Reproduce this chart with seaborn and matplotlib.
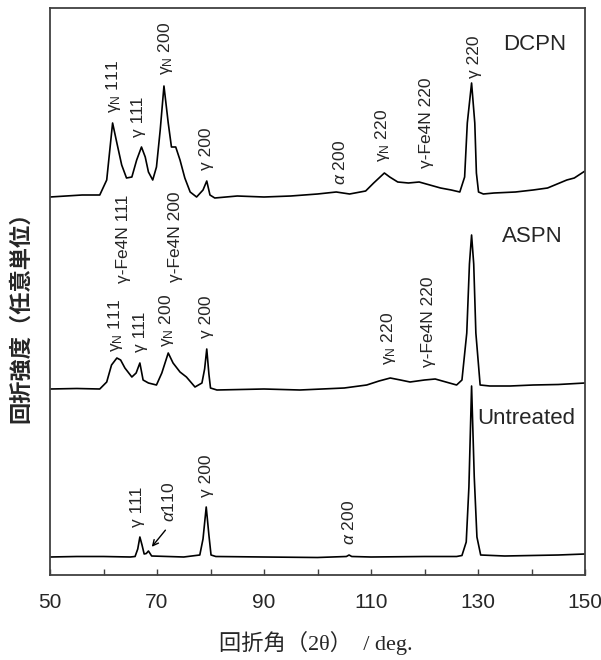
import numpy as np
import matplotlib
matplotlib.use("Agg")
import matplotlib.pyplot as plt
import seaborn as sns

# XRD patterns, intensities (arbitrary units, each trace from its own baseline)
untreated_x = [50, 55, 60, 65.0, 65.9, 66.4, 66.8, 67.2, 67.6, 68.0, 68.4, 69.0, 72, 75, 78.0, 78.6,
               79.2, 79.7, 80.1, 81, 90, 100, 105.4, 105.9, 106.4, 110, 120, 126.0, 127.0, 127.8,
               128.3, 128.8, 129.3, 129.8, 130.5, 135, 140, 145, 150]
untreated_y = [0, 0.5, 0.5, 0, 0.5, 8, 20, 12, 3, 3.5, 6, 1, 0.5, 0, 2, 18,
               50, 22, 2, 0.5, 0, -0.5, 0.5, 2, 0.5, 0, 0.5, 0.5, 1.5, 15,
               70, 171, 80, 20, 2, 1, 1.5, 2, 3]

aspn_x = [50, 55, 59.3, 60.6, 61.5, 62.5, 63.2, 64.0, 65.3, 66.1, 66.8, 67.4, 68.4, 69.9, 70.9,
          72.1, 73.0, 74.3, 75.5, 77.1, 78.4, 78.9, 79.3, 79.7, 80.0, 81.2, 90, 96.7, 105, 109.2,
          111.5, 113.6, 115.5, 117.3, 120, 122.0, 124, 126.0, 127.0, 127.9, 128.4, 128.8,
          129.2, 129.6, 130.4, 132.2, 136, 140.3, 145, 150]
aspn_y = [0, 0.5, 0, 7, 24, 31, 29, 21, 12, 16, 26, 9, 6, 4, 16,
          36, 26, 17, 12, 2, 6, 20, 40, 15, 1, -1, 0, -1, 1, 4,
          8, 11, 9, 7, 9, 10, 7, 4, 9, 56, 125, 154,
          125, 56, 4, 3, 3, 4, 4.5, 6]

dcpn_x = [50, 53, 56, 59.3, 60.6, 61.7, 62.5, 63.4, 64.3, 65.3, 66.2, 67.1, 67.8, 68.4, 69.2,
          69.9, 70.6, 71.3, 72.1, 72.7, 73.5, 74.3, 75.2, 76.2, 77.4, 78.6, 79.3, 79.9, 80.8,
          85, 90, 95, 100, 103.5, 106, 109, 110.5, 112.5, 113.5, 115, 117, 119, 121, 123, 125,
          126.6, 127.5, 128.0, 128.8, 129.4, 129.7, 130.1, 131, 133, 137, 140.3, 143, 146.6,
          148, 150]
dcpn_y = [0, 1, 2, 2, 17, 74, 54, 32, 19, 20, 37, 50, 40, 25, 17,
          30, 67, 111, 74, 50, 50, 37, 19, 5, 0, 7, 16, 2, -1,
          1, 0, 1, 3, 5, 3, 6, 14, 24, 20, 15, 14, 15, 12, 9, 7,
          5, 20, 74, 114, 74, 24, 5, 3, 4, 5, 7, 9, 17,
          19, 26]

offsets = {"Untreated": 18, "ASPN": 186, "DCPN": 378}

# peak labels: (text, 2theta, bottom of text)
dcpn_labels = [("γ$_{\\rm N}$ 111", 61.8, 462), ("γ 111", 66.6, 438), ("γ$_{\\rm N}$ 200", 71.5, 500),
               ("γ 200", 79.2, 405), ("$\\alpha$ 200", 104.2, 390), ("γ$_{\\rm N}$ 220", 112.2, 413),
               ("γ-Fe4N 220", 120.4, 407), ("γ 220", 129.3, 497)]
aspn_labels = [("γ-Fe4N 111", 63.8, 292), ("γ-Fe4N 200", 73.4, 293), ("γ$_{\\rm N}$ 111", 62.3, 223),
               ("γ 111", 67.0, 223), ("γ$_{\\rm N}$ 200", 71.8, 228), ("γ 200", 79.2, 237),
               ("γ$_{\\rm N}$ 220", 113.2, 210), ("γ-Fe4N 220", 120.7, 208)]
untreated_labels = [("γ 111", 66.3, 48), ("$\\alpha$110", 72.2, 53), ("γ 200", 79.2, 78),
                    ("$\\alpha$ 200", 105.9, 30)]

sns.set_style("ticks")
plt.rcParams["font.family"] = ["Liberation Sans", "Noto Sans CJK JP"]
plt.rcParams["mathtext.fontset"] = "custom"
plt.rcParams["mathtext.rm"] = "Liberation Sans"
plt.rcParams["mathtext.it"] = "Liberation Sans:italic"

fig = plt.figure(figsize=(6.01, 6.6), dpi=100)
ax = fig.add_axes([50 / 601, 85 / 660, 535 / 601, 567 / 660])

for name, xs, ys in [("Untreated", untreated_x, untreated_y),
                     ("ASPN", aspn_x, aspn_y),
                     ("DCPN", dcpn_x, dcpn_y)]:
    sns.lineplot(x=xs, y=np.array(ys) + offsets[name], ax=ax, color="black", lw=1.2)

for labels in [dcpn_labels, aspn_labels, untreated_labels]:
    for txt, x, y in labels:
        ax.text(x, y, txt, rotation=90, ha="center", va="bottom", fontsize=12.5)

ax.text(134.7, 531, "DCPN", fontsize=16, va="center", ha="left")
ax.text(134.5, 338, "ASPN", fontsize=16, va="center", ha="left")
ax.text(129.8, 157, "Untreated", fontsize=16, va="center", ha="left")

ax.annotate("", xy=(68.7, 26), xytext=(71.9, 47),
            arrowprops=dict(arrowstyle="->", lw=1, color="black"))

ax.set_xlim(50, 150)
ax.set_ylim(0, 567)
ax.set_xticks(np.arange(50, 151, 10))
ax.set_xticklabels([str(v) if (v - 50) % 20 == 0 else "" for v in range(50, 151, 10)])
ax.set_yticks([])
ax.tick_params(axis="x", direction="in", length=4, width=1, color="#404040",
               labelsize=15, pad=13, top=False)
for sp in ax.spines.values():
    sp.set_color("#404040")
    sp.set_linewidth(1.3)

fig.text(21 / 601, 1 - 312 / 660, "回折強度（任意単位）", rotation=90, ha="center", va="center",
         fontsize=16, fontweight="bold", family=["Noto Sans CJK JP"])
fig.text(316 / 601, 1 - 643 / 660, "回折角（2θ）  / deg.", ha="center", va="center",
         fontsize=16, family=["Liberation Serif", "Noto Sans CJK JP"])

fig.savefig("out.png", dpi=100)
